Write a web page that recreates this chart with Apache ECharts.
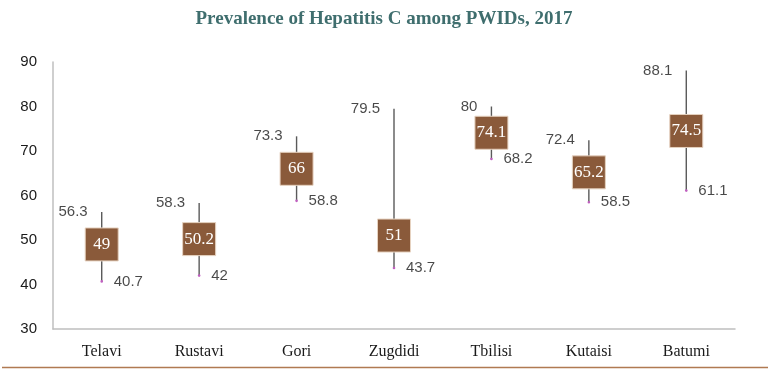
<!DOCTYPE html>
<html><head><meta charset="utf-8">
<script src="https://cdn.jsdelivr.net/npm/echarts@6/dist/echarts.min.js"></script>
<style>html,body{margin:0;padding:0;background:#fff}#c{width:768px;height:389px}</style>
</head><body><div id="c"></div>
<script>
const categories = ['Telavi','Rustavi','Gori','Zugdidi','Tbilisi','Kutaisi','Batumi'];
const midValues = [49, 50.2, 66, 51, 74.1, 65.2, 74.5];
const highValues = [56.3, 58.3, 73.3, 79.5, 80, 72.4, 88.1];
const lowValues = [40.7, 42, 58.8, 43.7, 68.2, 58.5, 61.1];
const yTicks = [30, 40, 50, 60, 70, 80, 90];

const chart = echarts.init(document.getElementById('c'));
const numFont = '"Liberation Sans", Arial, sans-serif';
const serif = '"Liberation Serif", "DejaVu Serif", serif';
chart.setOption({
  animation: false,
  title: {
    text: 'Prevalence of Hepatitis C among PWIDs, 2017',
    left: 'center', top: 5,
    textStyle: { fontFamily: serif, fontWeight: 'bold', fontSize: 19, color: '#3f6e6e' }
  },
  graphic: [{
    type: 'line', shape: { x1: 2, y1: 367.5, x2: 768, y2: 367.5 },
    style: { stroke: '#b07a52', lineWidth: 1.5 }
  }],
  grid: { left: 53, right: 33, top: 62, bottom: 60 },
  xAxis: {
    type: 'category', data: categories,
    axisLine: { lineStyle: { color: '#bfbfbf', width: 1.5 } },
    axisTick: { show: false },
    axisLabel: { fontFamily: serif, fontSize: 16, color: '#1a1a1a', margin: 15 }
  },
  yAxis: {
    type: 'value', min: yTicks[0], max: yTicks[yTicks.length - 1], interval: 10,
    splitLine: { show: false },
    axisLine: { show: true, lineStyle: { color: '#bfbfbf', width: 1.5 } },
    axisTick: { show: false },
    axisLabel: { fontFamily: numFont, fontSize: 15, color: '#1a1a1a', margin: 16 }
  },
  series: [
    {
      type: 'custom', name: 'whisker',
      data: categories.map((c, i) => [i, lowValues[i], highValues[i]]),
      renderItem: function (params, api) {
        const lo = api.coord([api.value(0), api.value(1)]);
        const hi = api.coord([api.value(0), api.value(2)]);
        return {
          type: 'group', children: [
            { type: 'line', shape: { x1: lo[0], y1: lo[1], x2: hi[0], y2: hi[1] },
              style: { stroke: '#5a5a5a', lineWidth: 1.4 } },
            { type: 'circle', shape: { cx: lo[0], cy: lo[1], r: 1.3 }, style: { fill: '#c060c0' } }
          ]
        };
      },
      z: 1
    },
    {
      type: 'scatter', name: 'box', data: midValues,
      symbol: 'rect', symbolSize: 33,
      itemStyle: { color: '#8a5a3a', borderColor: '#e6d2c0', borderWidth: 1, opacity: 1 },
      label: { show: true, position: 'inside', fontFamily: serif, fontSize: 17, color: '#fff' },
      z: 3
    },
    {
      type: 'scatter', name: 'high', data: highValues, symbolSize: 0,
      label: { show: true, position: 'left', distance: 14, fontFamily: numFont, fontSize: 15, color: '#1a1a1a' },
      z: 2
    },
    {
      type: 'scatter', name: 'low', data: lowValues, symbolSize: 0,
      label: { show: true, position: 'right', distance: 12, fontFamily: numFont, fontSize: 15, color: '#1a1a1a' },
      z: 2
    }
  ]
});
</script></body></html>
